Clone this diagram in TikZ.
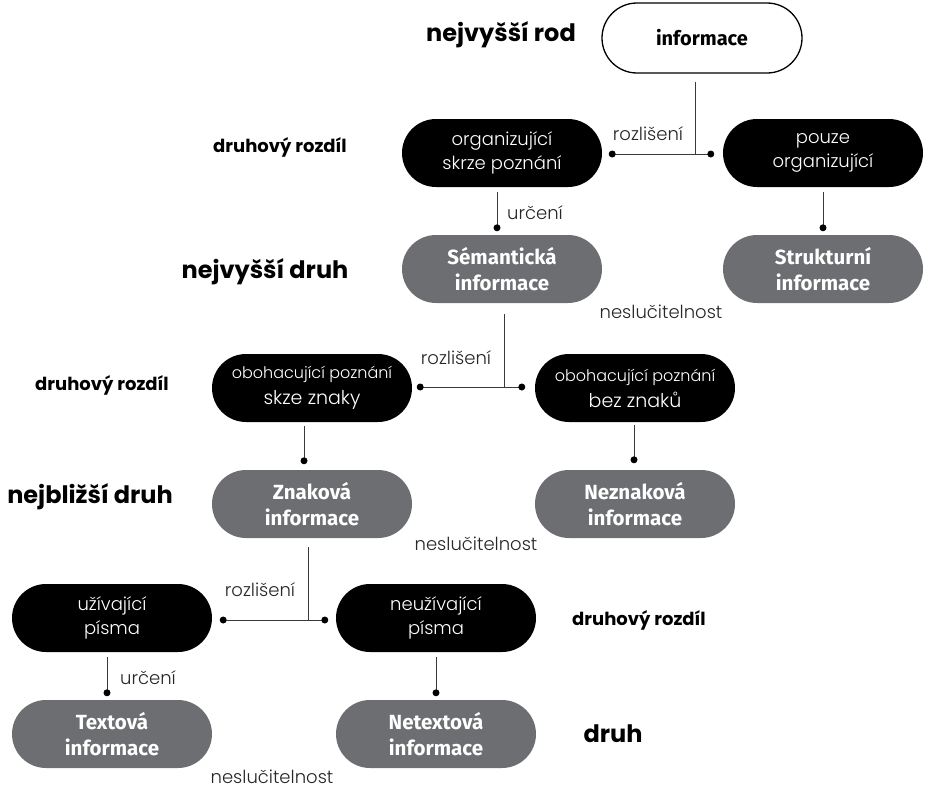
\documentclass[tikz,border=0pt]{standalone}
\usepackage{fontspec}
\setmainfont{Poppins}
\newfontfamily\lightfont{Poppins Light}
\newfontfamily\boxbold{Fira Sans}
\usetikzlibrary{calc}
\definecolor{boxgray}{HTML}{6D6E71}
\definecolor{linegray}{HTML}{3A3A3A}
\newcommand{\secondline}[1]{{\fontsize{19}{26}\selectfont #1}}
\begin{document}
\begin{tikzpicture}[x=1pt,y=-1pt,
  pill/.style={rounded corners=34pt, minimum width=200pt, minimum height=68pt, inner sep=0pt, align=center, font=\lightfont\fontsize{18}{24.5}\selectfont},
  whitepill/.style={pill, draw=black, line width=1.3pt, fill=white, minimum height=70pt, rounded corners=35pt, font=\boxbold\bfseries\fontsize{20}{25}\selectfont},
  darkpill/.style={pill, fill=black, text=white},
  widepill/.style={darkpill, font=\lightfont\fontsize{16}{26}\selectfont},
  greypill/.style={pill, fill=boxgray, text=white, font=\boxbold\bfseries\fontsize{20.5}{26.5}\selectfont},
  conn/.style={draw=linegray, line width=0.9pt},
  dotmark/.style={circle, fill=black, inner sep=0pt, minimum size=7pt},
  lbl/.style={font=\lightfont\fontsize{18}{20}\selectfont, inner sep=0pt, text=black!85},
  lvlbig/.style={font=\bfseries\fontsize{24}{26}\selectfont, inner sep=0pt},
  lvlsmall/.style={font=\bfseries\fontsize{18}{20}\selectfont, inner sep=0pt},
]
\useasboundingbox (0,0) rectangle (927,790);

% nodes
\node[whitepill] (info) at (702,38) {informace};
\node[darkpill] (org) at (502,153) {organizující\\skrze poznání};
\node[darkpill] (pouze) at (823,153) {pouze\\organizující};
\node[greypill] (sem) at (502,269) {Sémantická\\informace};
\node[greypill] (strukt) at (823,269) {Strukturní\\informace};
\node[widepill] (obo1) at (312,388) {obohacující poznání\\\secondline{skze znaky}};
\node[widepill] (obo2) at (635,388) {obohacující poznání\\\secondline{bez znaků}};
\node[greypill] (znak) at (312,504) {Znaková\\informace};
\node[greypill] (neznak) at (635,504) {Neznaková\\informace};
\node[darkpill] (uziv) at (112,618) {užívající\\písma};
\node[darkpill] (neuziv) at (436,618) {neužívající\\písma};
\node[greypill] (textova) at (112,734) {Textová\\informace};
\node[greypill] (netext) at (436,734) {Netextová\\informace};

% level labels
\node[lvlbig] (l1) at (501,35) {nejvyšší rod};
\node[lvlsmall] (l2) at (280,147) {druhový rozdíl};
\node[lvlbig] (l3) at (265,272) {nejvyšší druh};
\node[lvlsmall] (l4) at (102,385) {druhový rozdíl};
\node[lvlbig] (l5) at (90,497) {nejbližší druh};
\node[lvlsmall] (l6) at (639,620) {druhový rozdíl};
\node[lvlbig] (l7) at (613,734) {druh};

% split 1
\coordinate (t1) at ($(info.south)+(-7,8)$);
\coordinate (a1) at ($(org.east)+(10,1)$);
\coordinate (b1) at ($(pouze.west)+(-12,1)$);
\draw[conn] (t1) -- (t1 |- a1);
\draw[conn] (a1) -- (b1);
\node[dotmark] (d1a) at (a1) {};
\node[dotmark] (d1b) at (b1) {};
\node[lbl, anchor=base] (r1) at (648,140) {rozlišení};

% org -> sem, pouze -> strukt
\coordinate (e1) at ($(sem.north)+(-5,-7)$);
\draw[conn] ($(org.south)+(-5,5)$) -- (e1);
\node[dotmark] (d2) at (e1) {};
\node[lbl, anchor=base west] (u1) at (507,219) {určení};
\coordinate (e2) at ($(strukt.north)+(0,-7)$);
\draw[conn] ($(pouze.south)+(0,5)$) -- (e2);
\node[dotmark] (d3) at (e2) {};
\node[lbl, anchor=base] (n1) at (661,318) {neslučitelnost};

% split 2
\coordinate (t2) at ($(sem.south)+(2,11)$);
\coordinate (a2) at ($(obo1.east)+(8,-1)$);
\coordinate (b2) at ($(obo2.west)+(-13,-1)$);
\draw[conn] (t2) -- (t2 |- a2);
\draw[conn] (a2) -- (b2);
\node[dotmark] (d4a) at (a2) {};
\node[dotmark] (d4b) at (b2) {};
\node[lbl, anchor=base] (r2) at (456,364) {rozlišení};

% obo -> znak
\coordinate (e3) at ($(znak.north)+(-8,-9)$);
\draw[conn] ($(obo1.south)+(-8,4)$) -- (e3);
\node[dotmark] (d5) at (e3) {};
\coordinate (e4) at ($(neznak.north)+(-1,-10)$);
\draw[conn] ($(obo2.south)+(-1,3)$) -- (e4);
\node[dotmark] (d6) at (e4) {};
\node[lbl, anchor=base] (n2) at (476,550) {neslučitelnost};

% split 3
\coordinate (t3) at ($(znak.south)+(-4,9)$);
\coordinate (a3) at ($(uziv.east)+(11,2)$);
\coordinate (b3) at ($(neuziv.west)+(-11,2)$);
\draw[conn] (t3) -- (t3 |- a3);
\draw[conn] (a3) -- (b3);
\node[dotmark] (d7a) at (a3) {};
\node[dotmark] (d7b) at (b3) {};
\node[lbl, anchor=base] (r3) at (260,596) {rozlišení};

% uziv -> textova
\coordinate (e5) at ($(textova.north)+(-5,-7)$);
\draw[conn] ($(uziv.south)+(-5,5)$) -- (e5);
\node[dotmark] (d8) at (e5) {};
\node[lbl, anchor=base west] (u2) at (120,684) {určení};
\coordinate (e6) at ($(netext.north)+(0,-7)$);
\draw[conn] ($(neuziv.south)+(0,5)$) -- (e6);
\node[dotmark] (d9) at (e6) {};
\node[lbl, anchor=base] (n3) at (272,783) {neslučitelnost};
\end{tikzpicture}
\end{document}
